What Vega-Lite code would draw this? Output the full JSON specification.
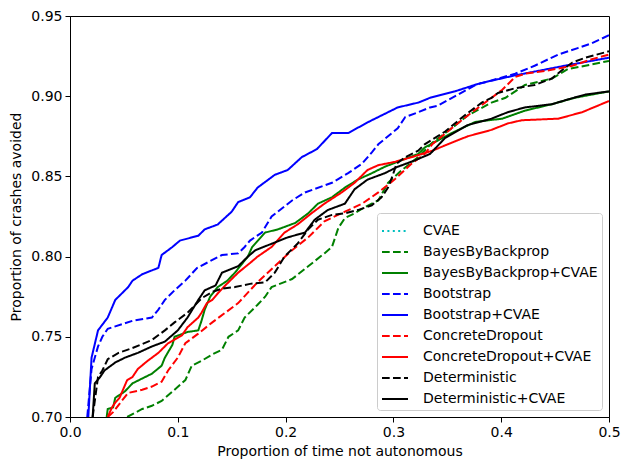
{
  "$schema": "https://vega.github.io/schema/vega-lite/v6.json",
  "width": 539,
  "height": 401,
  "autosize": {"type": "none"},
  "padding": {"left": 70, "top": 16, "right": 21, "bottom": 53},
  "config": {
    "font": "DejaVu Sans",
    "background": "white",
    "view": {"stroke": "black", "strokeWidth": 1},
    "axis": {
      "grid": false,
      "labelFlush": false,
      "labelOverlap": false,
      "domainColor": "black",
      "domainWidth": 1,
      "tickColor": "black",
      "tickWidth": 1,
      "tickSize": 5,
      "labelColor": "black",
      "labelFontSize": 14,
      "labelPadding": 3,
      "titleColor": "black",
      "titleFontSize": 14,
      "titleFontWeight": "normal"
    },
    "legend": {
      "orient": "bottom-right",
      "offset": 7,
      "fillColor": "rgba(255,255,255,0.8)",
      "strokeColor": "#cccccc",
      "cornerRadius": 3,
      "padding": 4,
      "symbolType": "stroke",
      "symbolSize": 676,
      "symbolStrokeWidth": 2,
      "labelFontSize": 14,
      "labelColor": "black",
      "labelOffset": 14,
      "labelLimit": 400,
      "rowPadding": 0
    }
  },
  "data": {
    "values": [
      {"method": "BayesByBackprop", "x": 0.053, "y": 0.700},
      {"method": "BayesByBackprop", "x": 0.067, "y": 0.705},
      {"method": "BayesByBackprop", "x": 0.076, "y": 0.707},
      {"method": "BayesByBackprop", "x": 0.085, "y": 0.710},
      {"method": "BayesByBackprop", "x": 0.097, "y": 0.717},
      {"method": "BayesByBackprop", "x": 0.107, "y": 0.723},
      {"method": "BayesByBackprop", "x": 0.113, "y": 0.732},
      {"method": "BayesByBackprop", "x": 0.122, "y": 0.735},
      {"method": "BayesByBackprop", "x": 0.132, "y": 0.739},
      {"method": "BayesByBackprop", "x": 0.141, "y": 0.742},
      {"method": "BayesByBackprop", "x": 0.147, "y": 0.750},
      {"method": "BayesByBackprop", "x": 0.156, "y": 0.754},
      {"method": "BayesByBackprop", "x": 0.162, "y": 0.762},
      {"method": "BayesByBackprop", "x": 0.174, "y": 0.770},
      {"method": "BayesByBackprop", "x": 0.181, "y": 0.775},
      {"method": "BayesByBackprop", "x": 0.187, "y": 0.781},
      {"method": "BayesByBackprop", "x": 0.206, "y": 0.786},
      {"method": "BayesByBackprop", "x": 0.221, "y": 0.794},
      {"method": "BayesByBackprop", "x": 0.236, "y": 0.802},
      {"method": "BayesByBackprop", "x": 0.243, "y": 0.806},
      {"method": "BayesByBackprop", "x": 0.249, "y": 0.818},
      {"method": "BayesByBackprop", "x": 0.255, "y": 0.824},
      {"method": "BayesByBackprop", "x": 0.264, "y": 0.827},
      {"method": "BayesByBackprop", "x": 0.274, "y": 0.831},
      {"method": "BayesByBackprop", "x": 0.286, "y": 0.835},
      {"method": "BayesByBackprop", "x": 0.295, "y": 0.846},
      {"method": "BayesByBackprop", "x": 0.308, "y": 0.854},
      {"method": "BayesByBackprop", "x": 0.323, "y": 0.862},
      {"method": "BayesByBackprop", "x": 0.336, "y": 0.871},
      {"method": "BayesByBackprop", "x": 0.354, "y": 0.880},
      {"method": "BayesByBackprop", "x": 0.369, "y": 0.888},
      {"method": "BayesByBackprop", "x": 0.391, "y": 0.896},
      {"method": "BayesByBackprop", "x": 0.404, "y": 0.899},
      {"method": "BayesByBackprop", "x": 0.422, "y": 0.907},
      {"method": "BayesByBackprop", "x": 0.447, "y": 0.911},
      {"method": "BayesByBackprop", "x": 0.462, "y": 0.917},
      {"method": "BayesByBackprop", "x": 0.478, "y": 0.919},
      {"method": "BayesByBackprop", "x": 0.500, "y": 0.922},

      {"method": "BayesByBackprop+CVAE", "x": 0.034, "y": 0.700},
      {"method": "BayesByBackprop+CVAE", "x": 0.035, "y": 0.705},
      {"method": "BayesByBackprop+CVAE", "x": 0.040, "y": 0.706},
      {"method": "BayesByBackprop+CVAE", "x": 0.042, "y": 0.712},
      {"method": "BayesByBackprop+CVAE", "x": 0.051, "y": 0.716},
      {"method": "BayesByBackprop+CVAE", "x": 0.058, "y": 0.721},
      {"method": "BayesByBackprop+CVAE", "x": 0.067, "y": 0.724},
      {"method": "BayesByBackprop+CVAE", "x": 0.076, "y": 0.727},
      {"method": "BayesByBackprop+CVAE", "x": 0.085, "y": 0.732},
      {"method": "BayesByBackprop+CVAE", "x": 0.088, "y": 0.737},
      {"method": "BayesByBackprop+CVAE", "x": 0.095, "y": 0.745},
      {"method": "BayesByBackprop+CVAE", "x": 0.097, "y": 0.750},
      {"method": "BayesByBackprop+CVAE", "x": 0.109, "y": 0.753},
      {"method": "BayesByBackprop+CVAE", "x": 0.119, "y": 0.754},
      {"method": "BayesByBackprop+CVAE", "x": 0.122, "y": 0.760},
      {"method": "BayesByBackprop+CVAE", "x": 0.125, "y": 0.767},
      {"method": "BayesByBackprop+CVAE", "x": 0.130, "y": 0.775},
      {"method": "BayesByBackprop+CVAE", "x": 0.137, "y": 0.781},
      {"method": "BayesByBackprop+CVAE", "x": 0.146, "y": 0.785},
      {"method": "BayesByBackprop+CVAE", "x": 0.153, "y": 0.790},
      {"method": "BayesByBackprop+CVAE", "x": 0.165, "y": 0.800},
      {"method": "BayesByBackprop+CVAE", "x": 0.169, "y": 0.806},
      {"method": "BayesByBackprop+CVAE", "x": 0.181, "y": 0.815},
      {"method": "BayesByBackprop+CVAE", "x": 0.193, "y": 0.817},
      {"method": "BayesByBackprop+CVAE", "x": 0.209, "y": 0.821},
      {"method": "BayesByBackprop+CVAE", "x": 0.221, "y": 0.827},
      {"method": "BayesByBackprop+CVAE", "x": 0.230, "y": 0.833},
      {"method": "BayesByBackprop+CVAE", "x": 0.243, "y": 0.837},
      {"method": "BayesByBackprop+CVAE", "x": 0.255, "y": 0.843},
      {"method": "BayesByBackprop+CVAE", "x": 0.267, "y": 0.848},
      {"method": "BayesByBackprop+CVAE", "x": 0.280, "y": 0.852},
      {"method": "BayesByBackprop+CVAE", "x": 0.292, "y": 0.856},
      {"method": "BayesByBackprop+CVAE", "x": 0.311, "y": 0.861},
      {"method": "BayesByBackprop+CVAE", "x": 0.323, "y": 0.864},
      {"method": "BayesByBackprop+CVAE", "x": 0.329, "y": 0.868},
      {"method": "BayesByBackprop+CVAE", "x": 0.354, "y": 0.877},
      {"method": "BayesByBackprop+CVAE", "x": 0.376, "y": 0.884},
      {"method": "BayesByBackprop+CVAE", "x": 0.401, "y": 0.886},
      {"method": "BayesByBackprop+CVAE", "x": 0.422, "y": 0.891},
      {"method": "BayesByBackprop+CVAE", "x": 0.447, "y": 0.895},
      {"method": "BayesByBackprop+CVAE", "x": 0.468, "y": 0.899},
      {"method": "BayesByBackprop+CVAE", "x": 0.500, "y": 0.903},

      {"method": "Bootstrap", "x": 0.016, "y": 0.700},
      {"method": "Bootstrap", "x": 0.020, "y": 0.730},
      {"method": "Bootstrap", "x": 0.026, "y": 0.744},
      {"method": "Bootstrap", "x": 0.030, "y": 0.750},
      {"method": "Bootstrap", "x": 0.035, "y": 0.755},
      {"method": "Bootstrap", "x": 0.058, "y": 0.760},
      {"method": "Bootstrap", "x": 0.076, "y": 0.762},
      {"method": "Bootstrap", "x": 0.082, "y": 0.767},
      {"method": "Bootstrap", "x": 0.088, "y": 0.773},
      {"method": "Bootstrap", "x": 0.097, "y": 0.779},
      {"method": "Bootstrap", "x": 0.107, "y": 0.785},
      {"method": "Bootstrap", "x": 0.118, "y": 0.793},
      {"method": "Bootstrap", "x": 0.141, "y": 0.801},
      {"method": "Bootstrap", "x": 0.156, "y": 0.802},
      {"method": "Bootstrap", "x": 0.162, "y": 0.806},
      {"method": "Bootstrap", "x": 0.167, "y": 0.810},
      {"method": "Bootstrap", "x": 0.178, "y": 0.815},
      {"method": "Bootstrap", "x": 0.187, "y": 0.825},
      {"method": "Bootstrap", "x": 0.206, "y": 0.835},
      {"method": "Bootstrap", "x": 0.218, "y": 0.840},
      {"method": "Bootstrap", "x": 0.243, "y": 0.846},
      {"method": "Bootstrap", "x": 0.258, "y": 0.852},
      {"method": "Bootstrap", "x": 0.271, "y": 0.858},
      {"method": "Bootstrap", "x": 0.280, "y": 0.865},
      {"method": "Bootstrap", "x": 0.286, "y": 0.870},
      {"method": "Bootstrap", "x": 0.304, "y": 0.880},
      {"method": "Bootstrap", "x": 0.311, "y": 0.887},
      {"method": "Bootstrap", "x": 0.323, "y": 0.890},
      {"method": "Bootstrap", "x": 0.334, "y": 0.893},
      {"method": "Bootstrap", "x": 0.341, "y": 0.894},
      {"method": "Bootstrap", "x": 0.360, "y": 0.901},
      {"method": "Bootstrap", "x": 0.376, "y": 0.907},
      {"method": "Bootstrap", "x": 0.413, "y": 0.914},
      {"method": "Bootstrap", "x": 0.431, "y": 0.919},
      {"method": "Bootstrap", "x": 0.453, "y": 0.926},
      {"method": "Bootstrap", "x": 0.471, "y": 0.930},
      {"method": "Bootstrap", "x": 0.484, "y": 0.933},
      {"method": "Bootstrap", "x": 0.500, "y": 0.938},

      {"method": "Bootstrap+CVAE", "x": 0.017, "y": 0.700},
      {"method": "Bootstrap+CVAE", "x": 0.020, "y": 0.737},
      {"method": "Bootstrap+CVAE", "x": 0.026, "y": 0.754},
      {"method": "Bootstrap+CVAE", "x": 0.035, "y": 0.762},
      {"method": "Bootstrap+CVAE", "x": 0.042, "y": 0.773},
      {"method": "Bootstrap+CVAE", "x": 0.054, "y": 0.781},
      {"method": "Bootstrap+CVAE", "x": 0.058, "y": 0.785},
      {"method": "Bootstrap+CVAE", "x": 0.067, "y": 0.789},
      {"method": "Bootstrap+CVAE", "x": 0.082, "y": 0.793},
      {"method": "Bootstrap+CVAE", "x": 0.085, "y": 0.801},
      {"method": "Bootstrap+CVAE", "x": 0.095, "y": 0.806},
      {"method": "Bootstrap+CVAE", "x": 0.102, "y": 0.810},
      {"method": "Bootstrap+CVAE", "x": 0.119, "y": 0.813},
      {"method": "Bootstrap+CVAE", "x": 0.125, "y": 0.817},
      {"method": "Bootstrap+CVAE", "x": 0.137, "y": 0.820},
      {"method": "Bootstrap+CVAE", "x": 0.150, "y": 0.828},
      {"method": "Bootstrap+CVAE", "x": 0.156, "y": 0.834},
      {"method": "Bootstrap+CVAE", "x": 0.167, "y": 0.837},
      {"method": "Bootstrap+CVAE", "x": 0.174, "y": 0.843},
      {"method": "Bootstrap+CVAE", "x": 0.190, "y": 0.851},
      {"method": "Bootstrap+CVAE", "x": 0.202, "y": 0.854},
      {"method": "Bootstrap+CVAE", "x": 0.215, "y": 0.862},
      {"method": "Bootstrap+CVAE", "x": 0.229, "y": 0.867},
      {"method": "Bootstrap+CVAE", "x": 0.243, "y": 0.877},
      {"method": "Bootstrap+CVAE", "x": 0.258, "y": 0.877},
      {"method": "Bootstrap+CVAE", "x": 0.277, "y": 0.884},
      {"method": "Bootstrap+CVAE", "x": 0.304, "y": 0.893},
      {"method": "Bootstrap+CVAE", "x": 0.323, "y": 0.896},
      {"method": "Bootstrap+CVAE", "x": 0.334, "y": 0.899},
      {"method": "Bootstrap+CVAE", "x": 0.357, "y": 0.903},
      {"method": "Bootstrap+CVAE", "x": 0.380, "y": 0.908},
      {"method": "Bootstrap+CVAE", "x": 0.413, "y": 0.913},
      {"method": "Bootstrap+CVAE", "x": 0.459, "y": 0.919},
      {"method": "Bootstrap+CVAE", "x": 0.500, "y": 0.924},

      {"method": "ConcreteDropout", "x": 0.035, "y": 0.700},
      {"method": "ConcreteDropout", "x": 0.040, "y": 0.703},
      {"method": "ConcreteDropout", "x": 0.048, "y": 0.710},
      {"method": "ConcreteDropout", "x": 0.054, "y": 0.715},
      {"method": "ConcreteDropout", "x": 0.067, "y": 0.717},
      {"method": "ConcreteDropout", "x": 0.076, "y": 0.719},
      {"method": "ConcreteDropout", "x": 0.085, "y": 0.722},
      {"method": "ConcreteDropout", "x": 0.091, "y": 0.729},
      {"method": "ConcreteDropout", "x": 0.100, "y": 0.737},
      {"method": "ConcreteDropout", "x": 0.107, "y": 0.746},
      {"method": "ConcreteDropout", "x": 0.119, "y": 0.752},
      {"method": "ConcreteDropout", "x": 0.132, "y": 0.759},
      {"method": "ConcreteDropout", "x": 0.144, "y": 0.765},
      {"method": "ConcreteDropout", "x": 0.156, "y": 0.771},
      {"method": "ConcreteDropout", "x": 0.167, "y": 0.779},
      {"method": "ConcreteDropout", "x": 0.174, "y": 0.784},
      {"method": "ConcreteDropout", "x": 0.190, "y": 0.794},
      {"method": "ConcreteDropout", "x": 0.206, "y": 0.804},
      {"method": "ConcreteDropout", "x": 0.221, "y": 0.812},
      {"method": "ConcreteDropout", "x": 0.236, "y": 0.822},
      {"method": "ConcreteDropout", "x": 0.255, "y": 0.828},
      {"method": "ConcreteDropout", "x": 0.271, "y": 0.833},
      {"method": "ConcreteDropout", "x": 0.286, "y": 0.840},
      {"method": "ConcreteDropout", "x": 0.301, "y": 0.848},
      {"method": "ConcreteDropout", "x": 0.317, "y": 0.858},
      {"method": "ConcreteDropout", "x": 0.329, "y": 0.864},
      {"method": "ConcreteDropout", "x": 0.336, "y": 0.870},
      {"method": "ConcreteDropout", "x": 0.354, "y": 0.880},
      {"method": "ConcreteDropout", "x": 0.369, "y": 0.888},
      {"method": "ConcreteDropout", "x": 0.385, "y": 0.896},
      {"method": "ConcreteDropout", "x": 0.401, "y": 0.904},
      {"method": "ConcreteDropout", "x": 0.413, "y": 0.912},
      {"method": "ConcreteDropout", "x": 0.422, "y": 0.914},
      {"method": "ConcreteDropout", "x": 0.443, "y": 0.916},
      {"method": "ConcreteDropout", "x": 0.466, "y": 0.919},
      {"method": "ConcreteDropout", "x": 0.484, "y": 0.923},
      {"method": "ConcreteDropout", "x": 0.500, "y": 0.926},

      {"method": "ConcreteDropout+CVAE", "x": 0.035, "y": 0.700},
      {"method": "ConcreteDropout+CVAE", "x": 0.039, "y": 0.706},
      {"method": "ConcreteDropout+CVAE", "x": 0.042, "y": 0.709},
      {"method": "ConcreteDropout+CVAE", "x": 0.046, "y": 0.712},
      {"method": "ConcreteDropout+CVAE", "x": 0.053, "y": 0.723},
      {"method": "ConcreteDropout+CVAE", "x": 0.058, "y": 0.725},
      {"method": "ConcreteDropout+CVAE", "x": 0.063, "y": 0.730},
      {"method": "ConcreteDropout+CVAE", "x": 0.072, "y": 0.735},
      {"method": "ConcreteDropout+CVAE", "x": 0.082, "y": 0.740},
      {"method": "ConcreteDropout+CVAE", "x": 0.091, "y": 0.746},
      {"method": "ConcreteDropout+CVAE", "x": 0.104, "y": 0.751},
      {"method": "ConcreteDropout+CVAE", "x": 0.109, "y": 0.756},
      {"method": "ConcreteDropout+CVAE", "x": 0.119, "y": 0.762},
      {"method": "ConcreteDropout+CVAE", "x": 0.122, "y": 0.765},
      {"method": "ConcreteDropout+CVAE", "x": 0.127, "y": 0.771},
      {"method": "ConcreteDropout+CVAE", "x": 0.132, "y": 0.773},
      {"method": "ConcreteDropout+CVAE", "x": 0.137, "y": 0.777},
      {"method": "ConcreteDropout+CVAE", "x": 0.144, "y": 0.782},
      {"method": "ConcreteDropout+CVAE", "x": 0.156, "y": 0.790},
      {"method": "ConcreteDropout+CVAE", "x": 0.167, "y": 0.796},
      {"method": "ConcreteDropout+CVAE", "x": 0.174, "y": 0.800},
      {"method": "ConcreteDropout+CVAE", "x": 0.187, "y": 0.806},
      {"method": "ConcreteDropout+CVAE", "x": 0.199, "y": 0.815},
      {"method": "ConcreteDropout+CVAE", "x": 0.211, "y": 0.820},
      {"method": "ConcreteDropout+CVAE", "x": 0.224, "y": 0.827},
      {"method": "ConcreteDropout+CVAE", "x": 0.236, "y": 0.833},
      {"method": "ConcreteDropout+CVAE", "x": 0.252, "y": 0.840},
      {"method": "ConcreteDropout+CVAE", "x": 0.264, "y": 0.846},
      {"method": "ConcreteDropout+CVAE", "x": 0.276, "y": 0.854},
      {"method": "ConcreteDropout+CVAE", "x": 0.286, "y": 0.857},
      {"method": "ConcreteDropout+CVAE", "x": 0.301, "y": 0.859},
      {"method": "ConcreteDropout+CVAE", "x": 0.317, "y": 0.862},
      {"method": "ConcreteDropout+CVAE", "x": 0.336, "y": 0.866},
      {"method": "ConcreteDropout+CVAE", "x": 0.354, "y": 0.871},
      {"method": "ConcreteDropout+CVAE", "x": 0.369, "y": 0.875},
      {"method": "ConcreteDropout+CVAE", "x": 0.391, "y": 0.879},
      {"method": "ConcreteDropout+CVAE", "x": 0.406, "y": 0.883},
      {"method": "ConcreteDropout+CVAE", "x": 0.419, "y": 0.885},
      {"method": "ConcreteDropout+CVAE", "x": 0.453, "y": 0.886},
      {"method": "ConcreteDropout+CVAE", "x": 0.475, "y": 0.890},
      {"method": "ConcreteDropout+CVAE", "x": 0.500, "y": 0.897},

      {"method": "Deterministic", "x": 0.021, "y": 0.700},
      {"method": "Deterministic", "x": 0.026, "y": 0.725},
      {"method": "Deterministic", "x": 0.030, "y": 0.729},
      {"method": "Deterministic", "x": 0.035, "y": 0.736},
      {"method": "Deterministic", "x": 0.045, "y": 0.740},
      {"method": "Deterministic", "x": 0.058, "y": 0.743},
      {"method": "Deterministic", "x": 0.076, "y": 0.748},
      {"method": "Deterministic", "x": 0.088, "y": 0.754},
      {"method": "Deterministic", "x": 0.097, "y": 0.759},
      {"method": "Deterministic", "x": 0.109, "y": 0.765},
      {"method": "Deterministic", "x": 0.122, "y": 0.774},
      {"method": "Deterministic", "x": 0.132, "y": 0.778},
      {"method": "Deterministic", "x": 0.141, "y": 0.780},
      {"method": "Deterministic", "x": 0.153, "y": 0.781},
      {"method": "Deterministic", "x": 0.167, "y": 0.783},
      {"method": "Deterministic", "x": 0.181, "y": 0.784},
      {"method": "Deterministic", "x": 0.190, "y": 0.790},
      {"method": "Deterministic", "x": 0.199, "y": 0.800},
      {"method": "Deterministic", "x": 0.211, "y": 0.808},
      {"method": "Deterministic", "x": 0.221, "y": 0.817},
      {"method": "Deterministic", "x": 0.230, "y": 0.823},
      {"method": "Deterministic", "x": 0.243, "y": 0.826},
      {"method": "Deterministic", "x": 0.255, "y": 0.827},
      {"method": "Deterministic", "x": 0.267, "y": 0.829},
      {"method": "Deterministic", "x": 0.280, "y": 0.832},
      {"method": "Deterministic", "x": 0.289, "y": 0.837},
      {"method": "Deterministic", "x": 0.295, "y": 0.843},
      {"method": "Deterministic", "x": 0.299, "y": 0.850},
      {"method": "Deterministic", "x": 0.303, "y": 0.858},
      {"method": "Deterministic", "x": 0.311, "y": 0.862},
      {"method": "Deterministic", "x": 0.323, "y": 0.866},
      {"method": "Deterministic", "x": 0.329, "y": 0.870},
      {"method": "Deterministic", "x": 0.348, "y": 0.878},
      {"method": "Deterministic", "x": 0.366, "y": 0.888},
      {"method": "Deterministic", "x": 0.382, "y": 0.896},
      {"method": "Deterministic", "x": 0.391, "y": 0.899},
      {"method": "Deterministic", "x": 0.397, "y": 0.902},
      {"method": "Deterministic", "x": 0.413, "y": 0.905},
      {"method": "Deterministic", "x": 0.431, "y": 0.907},
      {"method": "Deterministic", "x": 0.447, "y": 0.911},
      {"method": "Deterministic", "x": 0.456, "y": 0.916},
      {"method": "Deterministic", "x": 0.466, "y": 0.921},
      {"method": "Deterministic", "x": 0.478, "y": 0.924},
      {"method": "Deterministic", "x": 0.500, "y": 0.928},

      {"method": "Deterministic+CVAE", "x": 0.021, "y": 0.700},
      {"method": "Deterministic+CVAE", "x": 0.023, "y": 0.721},
      {"method": "Deterministic+CVAE", "x": 0.028, "y": 0.725},
      {"method": "Deterministic+CVAE", "x": 0.032, "y": 0.729},
      {"method": "Deterministic+CVAE", "x": 0.042, "y": 0.734},
      {"method": "Deterministic+CVAE", "x": 0.051, "y": 0.737},
      {"method": "Deterministic+CVAE", "x": 0.063, "y": 0.740},
      {"method": "Deterministic+CVAE", "x": 0.076, "y": 0.744},
      {"method": "Deterministic+CVAE", "x": 0.088, "y": 0.747},
      {"method": "Deterministic+CVAE", "x": 0.100, "y": 0.754},
      {"method": "Deterministic+CVAE", "x": 0.109, "y": 0.762},
      {"method": "Deterministic+CVAE", "x": 0.119, "y": 0.773},
      {"method": "Deterministic+CVAE", "x": 0.125, "y": 0.779},
      {"method": "Deterministic+CVAE", "x": 0.135, "y": 0.782},
      {"method": "Deterministic+CVAE", "x": 0.141, "y": 0.790},
      {"method": "Deterministic+CVAE", "x": 0.156, "y": 0.794},
      {"method": "Deterministic+CVAE", "x": 0.165, "y": 0.800},
      {"method": "Deterministic+CVAE", "x": 0.172, "y": 0.804},
      {"method": "Deterministic+CVAE", "x": 0.187, "y": 0.808},
      {"method": "Deterministic+CVAE", "x": 0.202, "y": 0.812},
      {"method": "Deterministic+CVAE", "x": 0.218, "y": 0.815},
      {"method": "Deterministic+CVAE", "x": 0.227, "y": 0.823},
      {"method": "Deterministic+CVAE", "x": 0.239, "y": 0.829},
      {"method": "Deterministic+CVAE", "x": 0.255, "y": 0.833},
      {"method": "Deterministic+CVAE", "x": 0.264, "y": 0.842},
      {"method": "Deterministic+CVAE", "x": 0.276, "y": 0.848},
      {"method": "Deterministic+CVAE", "x": 0.292, "y": 0.852},
      {"method": "Deterministic+CVAE", "x": 0.304, "y": 0.856},
      {"method": "Deterministic+CVAE", "x": 0.320, "y": 0.860},
      {"method": "Deterministic+CVAE", "x": 0.334, "y": 0.864},
      {"method": "Deterministic+CVAE", "x": 0.348, "y": 0.874},
      {"method": "Deterministic+CVAE", "x": 0.369, "y": 0.882},
      {"method": "Deterministic+CVAE", "x": 0.391, "y": 0.886},
      {"method": "Deterministic+CVAE", "x": 0.406, "y": 0.890},
      {"method": "Deterministic+CVAE", "x": 0.422, "y": 0.893},
      {"method": "Deterministic+CVAE", "x": 0.447, "y": 0.895},
      {"method": "Deterministic+CVAE", "x": 0.462, "y": 0.898},
      {"method": "Deterministic+CVAE", "x": 0.478, "y": 0.901},
      {"method": "Deterministic+CVAE", "x": 0.500, "y": 0.903}
    ]
  },
  "mark": {"type": "line", "clip": true, "strokeWidth": 2},
  "encoding": {
    "x": {
      "field": "x",
      "type": "quantitative",
      "scale": {"domain": [0, 0.5], "nice": false, "zero": false},
      "axis": {
        "title": "Proportion of time not autonomous",
        "values": [0, 0.1, 0.2, 0.3, 0.4, 0.5],
        "format": ".1f",
        "titlePadding": 5
      }
    },
    "y": {
      "field": "y",
      "type": "quantitative",
      "scale": {"domain": [0.7, 0.95], "nice": false, "zero": false},
      "axis": {
        "title": "Proportion of crashes avoided",
        "values": [0.7, 0.75, 0.8, 0.85, 0.9, 0.95],
        "format": ".2f",
        "titlePadding": 7
      }
    },
    "color": {
      "field": "method",
      "type": "nominal",
      "scale": {
        "domain": ["CVAE", "BayesByBackprop", "BayesByBackprop+CVAE", "Bootstrap", "Bootstrap+CVAE", "ConcreteDropout", "ConcreteDropout+CVAE", "Deterministic", "Deterministic+CVAE"],
        "range": ["#00bfbf", "#008000", "#008000", "#0000ff", "#0000ff", "#ff0000", "#ff0000", "#000000", "#000000"]
      },
      "legend": {"title": null}
    },
    "strokeDash": {
      "field": "method",
      "type": "nominal",
      "scale": {
        "domain": ["CVAE", "BayesByBackprop", "BayesByBackprop+CVAE", "Bootstrap", "Bootstrap+CVAE", "ConcreteDropout", "ConcreteDropout+CVAE", "Deterministic", "Deterministic+CVAE"],
        "range": [[2, 3.4], [7.7, 3.3], [1, 0], [7.7, 3.3], [1, 0], [7.7, 3.3], [1, 0], [7.7, 3.3], [1, 0]]
      },
      "legend": {"title": null}
    }
  }
}
